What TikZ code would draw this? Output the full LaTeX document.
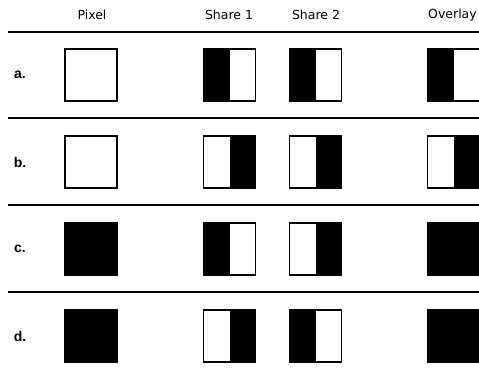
\documentclass[tikz,border=0pt]{standalone}
\usepackage{fontspec}
\setmainfont{Liberation Sans}
\newfontfamily\headfont{DejaVu Sans}
\begin{document}
\begin{tikzpicture}[x=1pt,y=-1pt,
  cell/.style={draw, line width=1.2pt, minimum width=52pt, minimum height=52pt, inner sep=0pt, outer sep=0pt},
  lb/.style={cell, path picture={\fill (path picture bounding box.south west) rectangle (path picture bounding box.north);}},
  rb/.style={cell, path picture={\fill (path picture bounding box.south) rectangle (path picture bounding box.north east);}},
  fb/.style={cell, fill=black},
  head/.style={font=\headfont\fontsize{12.5}{14}\selectfont, inner sep=0pt},
  lab/.style={font=\bfseries\fontsize{14}{16}\selectfont, inner sep=0pt},
  sep/.style={line width=2pt}]
\useasboundingbox (0,0) rectangle (479,377);
\clip (0,0) rectangle (479,377);
% headers
\node[head] (hp) at (92,15) {Pixel};
\node[head] (h1) at (229,15) {Share 1};
\node[head] (h2) at (316,15) {Share 2};
\node[head, anchor=west] (ho) at (428,15) {Overlay};
% separators
\foreach \i/\y in {1/32,2/118,3/205,4/292}{
  \coordinate (s\i a) at (8,\y);
  \coordinate (s\i b) at (479,\y);
  \draw[sep] (s\i a) -- (s\i b);
}
% labels
\node[lab] (la) at (20,75) {a.};
\node[lab] (lbb) at (20,162) {b.};
\node[lab] (lc) at (20,249) {c.};
\node[lab] (ld) at (20,336) {d.};
% row a
\node[cell] (ap) at (91,75) {};
\node[lb] (a1) at (229.5,75) {};
\node[lb] (a2) at (315.5,75) {};
\node[lb] (ao) at (453.5,75) {};
% row b
\node[cell] (bp) at (91,162) {};
\node[rb] (b1) at (229.5,162) {};
\node[rb] (b2) at (315.5,162) {};
\node[rb] (bo) at (453.5,162) {};
% row c
\node[fb] (cp) at (91,249) {};
\node[lb] (c1) at (229.5,249) {};
\node[rb] (c2) at (315.5,249) {};
\node[fb] (co) at (453.5,249) {};
% row d
\node[fb] (dp) at (91,336) {};
\node[rb] (d1) at (229.5,336) {};
\node[lb] (d2) at (315.5,336) {};
\node[fb] (do) at (453.5,336) {};
\end{tikzpicture}
\end{document}
